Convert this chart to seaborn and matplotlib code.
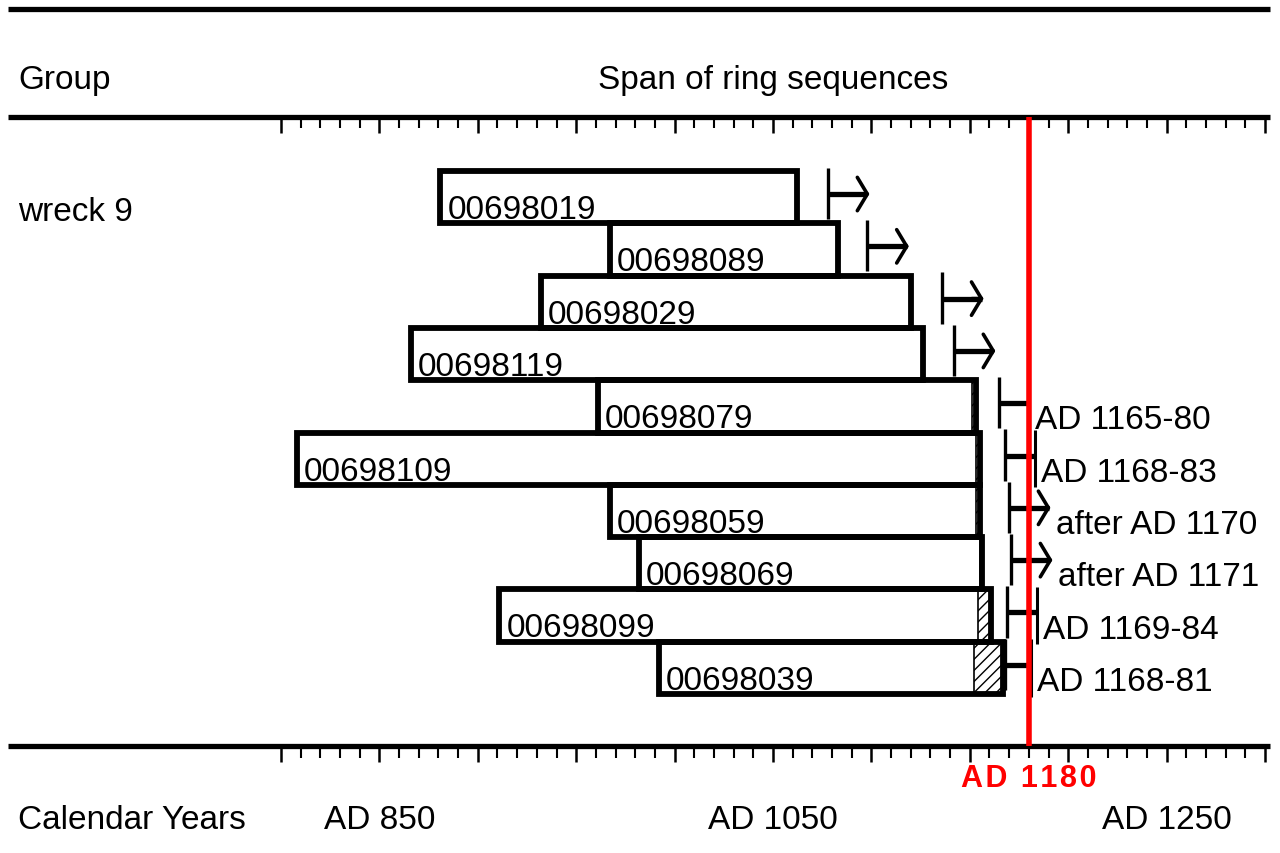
import numpy as np
import pandas as pd
import matplotlib
matplotlib.use("Agg")
import matplotlib.pyplot as plt
import matplotlib.transforms as mtransforms
import seaborn as sns

# tree-ring sequences, top to bottom
samples = ["00698019", "00698089", "00698029", "00698119", "00698079",
           "00698109", "00698059", "00698069", "00698099", "00698039"]
first_ring = [881, 967, 932, 866, 961, 808, 967, 982, 911, 992]
last_ring = [1062, 1083, 1120, 1126, 1153, 1155, 1155, 1156, 1161, 1167]
sapwood_from = [None, None, None, None, 1151, 1153, 1153, 1155, 1154, 1152]
felling_from = [1078, 1098, 1136, 1142, 1165, 1168, 1170, 1171, 1169, 1168]
felling_to = [None, None, None, None, 1180, 1183, None, None, 1184, 1181]
felling_text = ["", "", "", "", "AD 1165-80", "AD 1168-83", "after AD 1170",
                "after AD 1171", "AD 1169-84", "AD 1168-81"]
group_name = "wreck 9"
year_labels = [850, 1050, 1250]
marker_year = 1180
tick_years = np.arange(800, 1301, 10)

sns.set_style("white")
plt.rcParams["font.family"] = ["Liberation Sans", "DejaVu Sans"]
plt.rcParams["text.color"] = "black"
plt.rcParams["hatch.linewidth"] = 1.0

fig = plt.figure(figsize=(12.8, 8.54), dpi=100)
ax = fig.add_axes([0, 0, 1, 1])

rows = np.arange(len(samples))
df = pd.DataFrame({"sample": samples,
                   "length": np.array(last_ring) - np.array(first_ring)})

# sapwood (hatched) first, outline goes over it
for r, s0, s1 in zip(rows, sapwood_from, last_ring):
    if s0 is None:
        continue
    ax.barh(r, s1 - s0, left=s0, height=1.0, facecolor="white",
            edgecolor="black", hatch="///", linewidth=1.2, zorder=2)

sns.barplot(data=df, x="length", y="sample", orient="h", left=first_ring,
            width=1.0, fill=False, color="black", edgecolor="black",
            linewidth=4.2, errorbar=None, zorder=3, ax=ax)

# labels inside bars
for r, x0, name in zip(rows, first_ring, samples):
    ax.text(x0 + 3.5, r + 0.40, name, fontsize=24, va="baseline", ha="left", zorder=5)

# felling date estimates
ARROW_LEN = 21
for r, f0, f1, txt in zip(rows, felling_from, felling_to, felling_text):
    ax.vlines(f0, r - 0.56, r + 0.42, color="black", lw=2.4, zorder=4)
    yl = r - 0.06
    if f1 is None:
        tip = f0 + ARROW_LEN
        ax.hlines(yl, f0, tip - 1, color="black", lw=3.8, zorder=4)
        ax.annotate("", xy=(tip, yl), xytext=(tip - 6, yl),
                    arrowprops=dict(arrowstyle="->,head_length=0.36,head_width=0.6",
                                    lw=2.6, color="black", mutation_scale=20,
                                    shrinkA=0, shrinkB=0), zorder=4)
        end = tip
    else:
        ax.hlines(yl, f0, f1, color="black", lw=3.8, zorder=4)
        ax.vlines(f1, r - 0.55, r + 0.55, color="black", lw=2.2, zorder=4)
        end = f1
    if txt:
        ax.text(end + 3.0, r + 0.42, txt, fontsize=24, va="baseline", ha="left", zorder=5)

ax.set_xlim(657.22, 1307.62)
ax.set_ylim(12.540, -3.789)
ax.axis("off")

# frame lines, ticks and headings
blend = mtransforms.blended_transform_factory(ax.transData, ax.transAxes)
for yy in [0.9883, 0.8618, 0.1253]:
    ax.plot([0.00625, 0.992], [yy, yy], transform=ax.transAxes, color="black",
            lw=3.8, solid_capstyle="butt", clip_on=False)
major = tick_years[tick_years % 50 == 0]
minor = tick_years[tick_years % 50 != 0]
for yy, lm, lM in [(0.8618, 0.849, 0.843), (0.1253, 0.1112, 0.1066)]:
    ax.vlines(minor, lm, yy, transform=blend, color="black", lw=1.5)
    ax.vlines(major, lM, yy, transform=blend, color="black", lw=1.8)

ax.vlines(marker_year, 0.1253, 0.8618, transform=blend, color="#ff0000", lw=4, zorder=8)

ax.text(0.014, 0.8958, "Group", transform=ax.transAxes, fontsize=24, va="baseline")
ax.text(1050, 0.8958, "Span of ring sequences", transform=blend, fontsize=24,
        va="baseline", ha="center")
ax.text(0.014, 0.7412, group_name, transform=ax.transAxes, fontsize=24, va="baseline")
ax.text(0.014, 0.0293, "Calendar Years", transform=ax.transAxes, fontsize=24, va="baseline")
for yr in year_labels:
    ax.text(yr, 0.0293, f"AD {yr}", transform=blend, fontsize=24, va="baseline", ha="center")
spaced = "\u200a".join(f"AD {marker_year}")
ax.text(marker_year, 0.0785, spaced, transform=blend, fontsize=22,
        fontweight="bold", color="#ff0000", va="baseline", ha="center")

fig.savefig("out.png", dpi=100)
